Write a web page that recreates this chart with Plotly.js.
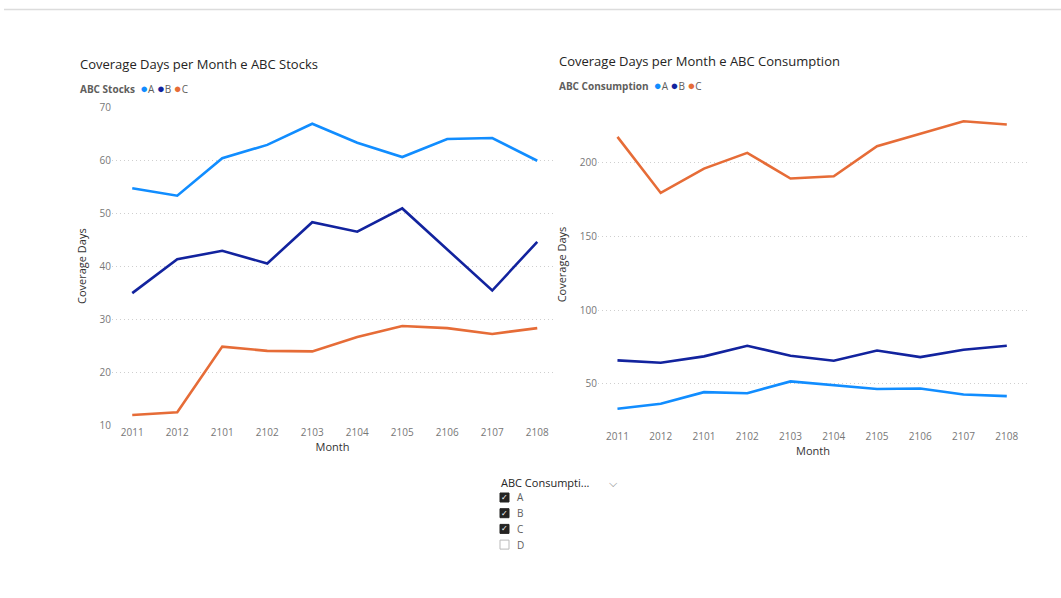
<!DOCTYPE html>
<html>
<head>
<meta charset="utf-8">
<script src="https://cdn.plot.ly/plotly-3.0.1.min.js"></script>
<style>html,body{margin:0;padding:0;background:#fff;}#chart{width:1061px;height:598px;}</style>
</head>
<body>
<div id="chart"></div>
<script>
// ---- data ----
const months = ["2011","2012","2101","2102","2103","2104","2105","2106","2107","2108"];
const classes = ["A","B","C"];
const stocksA = [54.7, 53.3, 60.4, 62.9, 66.9, 63.3, 60.6, 64.0, 64.2, 59.9];
const stocksB = [34.9, 41.3, 42.9, 40.5, 48.3, 46.5, 50.9, 43.2, 35.4, 44.6];
const stocksC = [11.9, 12.4, 24.8, 24.0, 23.9, 26.6, 28.7, 28.3, 27.2, 28.3];
const consA = [33.0, 36.4, 44.3, 43.6, 51.6, 49.1, 46.4, 46.8, 42.7, 41.6];
const consB = [65.9, 64.3, 68.6, 75.8, 69.0, 65.6, 72.6, 68.1, 73.1, 75.8];
const consC = [217.7, 179.6, 196.1, 206.8, 189.4, 190.9, 211.3, 219.7, 228.3, 226.1];
const slicerItems = ["A","B","C","D"];
const slicerChecked = [true, true, true, false];
const leftTitle = "Coverage Days per Month e ABC Stocks";
const rightTitle = "Coverage Days per Month e ABC Consumption";
const leftLegend = "ABC Stocks";
const rightLegend = "ABC Consumption";
const slicerTitle = "ABC Consumpti...";

// ---- style ----
const colors = ["#118DFF", "#12239E", "#E66C37"];
const W = 1061, H = 598;
const FONT = "Open Sans, Segoe UI, sans-serif";
const px = v => v / W;
const py = v => 1 - v / H;

const traces = [];
[stocksA, stocksB, stocksC].forEach((ys, i) => traces.push({
  type: "scatter", mode: "lines", x: months, y: ys, name: classes[i],
  line: {color: colors[i], width: 2.6}, xaxis: "x", yaxis: "y", showlegend: false
}));
[consA, consB, consC].forEach((ys, i) => traces.push({
  type: "scatter", mode: "lines", x: months, y: ys, name: classes[i],
  line: {color: colors[i], width: 2.6}, xaxis: "x2", yaxis: "y2", showlegend: false
}));

const tickFont = {family: FONT, size: 10, color: "#777"};
const axTitleFont = {family: FONT, size: 11, color: "#333"};

function legendText(label) {
  return "<b>" + label + "</b>  " + classes.map((c, i) =>
    "<span style='color:" + colors[i] + ";font-size:13px'>●</span>" + c).join(" ");
}

const annotations = [
  {x: px(78), y: py(64), xref: "paper", yref: "paper", xanchor: "left", yanchor: "middle",
   text: leftTitle, showarrow: false, font: {family: FONT, size: 13, color: "#252423"}},
  {x: px(557), y: py(61), xref: "paper", yref: "paper", xanchor: "left", yanchor: "middle",
   text: rightTitle, showarrow: false, font: {family: FONT, size: 13, color: "#252423"}},
  {x: px(78), y: py(88), xref: "paper", yref: "paper", xanchor: "left", yanchor: "middle",
   text: legendText(leftLegend), showarrow: false, font: {family: FONT, size: 10, color: "#605E5C"}},
  {x: px(557), y: py(85), xref: "paper", yref: "paper", xanchor: "left", yanchor: "middle",
   text: legendText(rightLegend), showarrow: false, font: {family: FONT, size: 10, color: "#605E5C"}},
  {x: px(499), y: py(482), xref: "paper", yref: "paper", xanchor: "left", yanchor: "middle",
   text: slicerTitle, showarrow: false, font: {family: FONT, size: 11, color: "#252423"}},
  {x: px(613), y: py(482), xref: "paper", yref: "paper", xanchor: "center", yanchor: "middle",
   text: "⌵", showarrow: false, font: {family: FONT, size: 11, color: "#888"}}
];
const shapes = [
  {type: "line", xref: "paper", yref: "paper", x0: px(4), x1: 1, y0: py(9.5), y1: py(9.5),
   line: {color: "#dcdcdc", width: 1.5}}
];
slicerItems.forEach((s, i) => {
  const cy = 497.5 + i * 15.7;
  shapes.push({type: "rect", xref: "paper", yref: "paper",
    x0: px(500), x1: px(509), y0: py(cy - 4.5), y1: py(cy + 4.5),
    fillcolor: slicerChecked[i] ? "#252423" : "#fff",
    line: {color: slicerChecked[i] ? "#252423" : "#bbb", width: 1}});
  if (slicerChecked[i]) {
    annotations.push({x: px(504.5), y: py(cy), xref: "paper", yref: "paper", xanchor: "center", yanchor: "middle",
      text: "✓", showarrow: false, font: {family: "DejaVu Sans", size: 8, color: "#fff"}});
  }
  annotations.push({x: px(515), y: py(cy), xref: "paper", yref: "paper", xanchor: "left", yanchor: "middle",
    text: s, showarrow: false, font: {family: FONT, size: 10, color: "#605E5C"}});
});

const commonY = {
  showgrid: true, gridcolor: "#cfcfcf", griddash: "1px,3px", gridwidth: 1,
  zeroline: false, showline: false, ticks: "", tickfont: tickFont
};
const commonX = {
  type: "category", showgrid: false, zeroline: false, showline: false, ticks: "",
  tickfont: tickFont
};

const layout = {
  width: W, height: H,
  margin: {l: 0, r: 0, t: 0, b: 0},
  paper_bgcolor: "#fff", plot_bgcolor: "#fff",
  showlegend: false,
  font: {family: FONT},
  xaxis: Object.assign({}, commonX, {domain: [px(112), px(553)], range: [-0.45, 9.35],
    anchor: "y", title: {text: "Month", font: axTitleFont, standoff: 2}}),
  yaxis: Object.assign({}, commonY, {domain: [py(425), py(107.3)], range: [10, 70],
    tickvals: [10, 20, 30, 40, 50, 60, 70], anchor: "x",
    title: {text: "Coverage Days", font: axTitleFont, standoff: 10}}),
  xaxis2: Object.assign({}, commonX, {domain: [px(598), px(1028)], range: [-0.45, 9.49],
    anchor: "y2", ticklabelstandoff: 4, title: {text: "Month", font: axTitleFont, standoff: 0}}),
  yaxis2: Object.assign({}, commonY, {domain: [py(425), py(104)], range: [22, 240],
    tickvals: [50, 100, 150, 200], anchor: "x2",
    title: {text: "Coverage Days", font: axTitleFont, standoff: 10}}),
  annotations: annotations,
  shapes: shapes
};

Plotly.newPlot("chart", traces, layout, {displayModeBar: false, staticPlot: true});
</script>
</body>
</html>
